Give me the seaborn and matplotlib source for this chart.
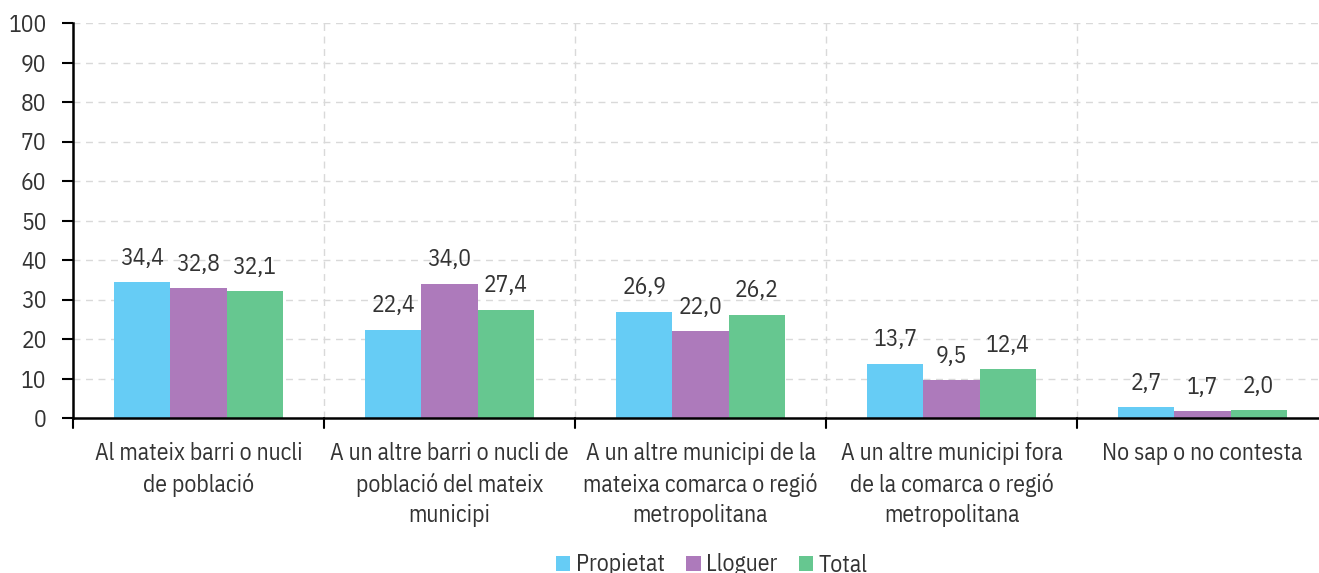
import matplotlib
matplotlib.use("Agg")
import matplotlib.pyplot as plt
import seaborn as sns
import pandas as pd

categories = [
    "Al mateix barri o nucli\nde població",
    "A un altre barri o nucli de\npoblació del mateix\nmunicipi",
    "A un altre municipi de la\nmateixa comarca o regió\nmetropolitana",
    "A un altre municipi fora\nde la comarca o regió\nmetropolitana",
    "No sap o no contesta",
]
series = ["Propietat", "Lloguer", "Total"]
propietat = [34.4, 22.4, 26.9, 13.7, 2.7]
lloguer = [32.8, 34.0, 22.0, 9.5, 1.7]
total = [32.1, 27.4, 26.2, 12.4, 2.0]
colors = ["#66CCF5", "#AD7ABB", "#66C790"]

rows = []
for s, vals in zip(series, [propietat, lloguer, total]):
    for c, v in zip(categories, vals):
        rows.append({"cat": c, "serie": s, "val": v})
df = pd.DataFrame(rows)

sns.set_theme(style="white")
plt.rcParams['font.family'] = ['IBM Plex Sans Condensed', 'DejaVu Sans']
txt = "#333333"
FS = 17

fig = plt.figure(figsize=(13.19, 5.73), dpi=100)
ax = fig.add_axes([73/1319, 1-418/573, (1328-73)/1319, (418-23)/573])

sns.barplot(data=df, x="cat", y="val", hue="serie", palette=colors,
            hue_order=series, order=categories, width=0.67, ax=ax,
            saturation=1, legend=True, edgecolor="none", linewidth=0)

for cont, vals in zip(ax.containers, [propietat, lloguer, total]):
    ax.bar_label(cont, labels=[f"{v:.1f}".replace(".", ",") for v in vals],
                 padding=9, fontsize=FS, color=txt)

ax.set_ylim(0, 100)
ax.set_xlim(-0.5, 4.5)
ax.set_yticks(range(0, 101, 10))
ax.set_xticks([0, 1, 2, 3, 4])
ax.set_xticklabels(categories, fontsize=FS, color=txt, linespacing=1.42)
ax.tick_params(axis="y", labelsize=FS, labelcolor=txt, length=8, width=1.5,
               direction="out", left=True, color="black", pad=11)
ax.tick_params(axis="x", length=0, pad=17)
for b in [-0.5, 0.5, 1.5, 2.5, 3.5]:
    ax.plot([b, b], [0, -2.5], color="black", lw=1.5, clip_on=False)
for b in [0.5, 1.5, 2.5, 3.5, 4.5]:
    ax.axvline(b, color="#d9d9d9", lw=1, ls=(0, (5, 4)), zorder=0)
for y in range(10, 101, 10):
    ax.axhline(y, color="#d9d9d9", lw=1, ls=(0, (5, 4)), zorder=0)
ax.set_xlabel("")
ax.set_ylabel("")
for s in ["top", "right"]:
    ax.spines[s].set_visible(False)
for s in ["left", "bottom"]:
    ax.spines[s].set_color("black")
    ax.spines[s].set_linewidth(1.8)

x_center = (712 - 73) / (1328 - 73)
leg = ax.legend(loc="center", bbox_to_anchor=(x_center, (418 - 565) / (418 - 23)),
                ncol=3, frameon=False, fontsize=FS, handlelength=0.6, handleheight=0.6,
                handletextpad=0.25, columnspacing=0.9, labelcolor=txt)
fig.savefig("out.png", dpi=100)
